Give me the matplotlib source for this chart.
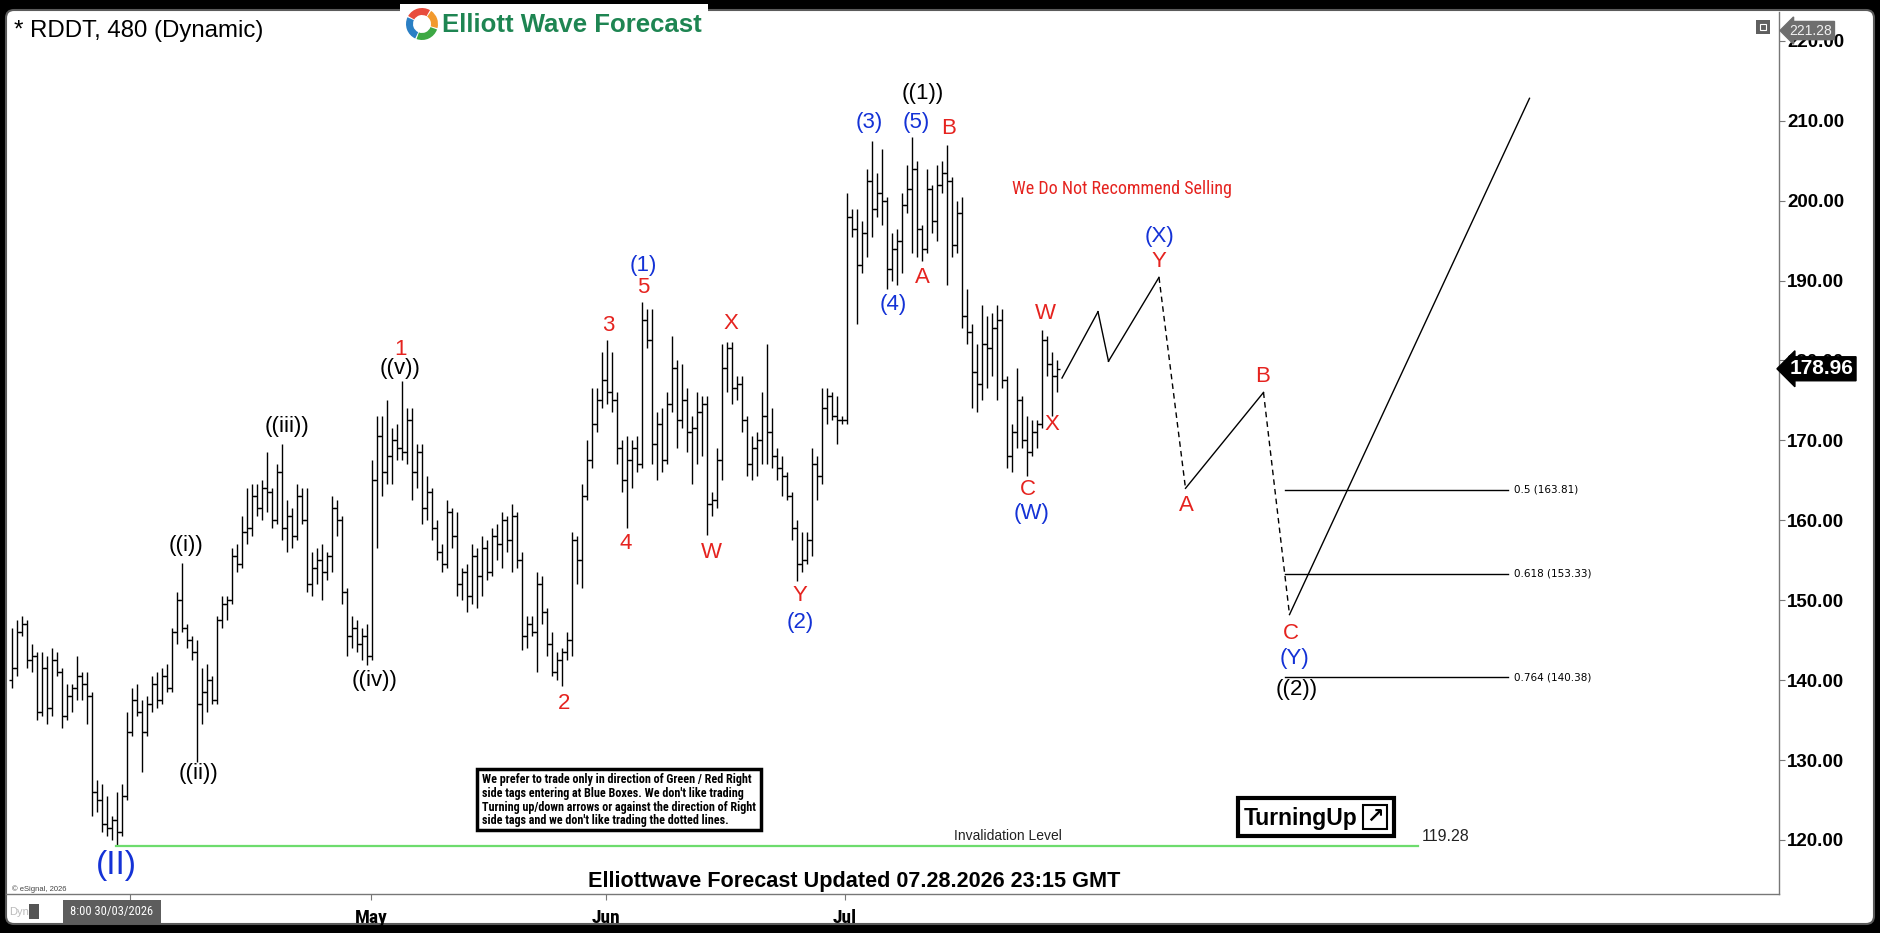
import matplotlib
matplotlib.use("Agg")
import matplotlib.pyplot as plt
import matplotlib.patches as patches
import matplotlib.transforms as mtransforms
from matplotlib.collections import LineCollection
from matplotlib import font_manager as fm
import numpy as np

# ---- RDDT 480 min bars ----
opens = [140.0, 141.5, 146.0, 147.0, 142.5, 143.0, 136.0, 141.5, 136.5, 142.5,
         141.0, 135.5, 138.0, 139.0, 140.5, 139.5, 138.0, 126.0, 125.0, 122.0,
         121.5, 122.5, 121.0, 125.5, 133.5, 137.5, 136.0, 133.5, 137.0, 139.5,
         137.5, 140.5, 139.0, 146.0, 150.0, 146.5, 145.0, 143.5, 137.0, 138.5,
         140.0, 137.5, 147.5, 149.5, 150.0, 155.5, 154.5, 158.5, 159.0, 163.0,
         161.5, 164.0, 163.5, 160.0, 166.0, 159.0, 160.5, 158.0, 163.0, 160.0,
         152.0, 154.0, 155.0, 153.5, 155.5, 161.5, 160.0, 151.0, 145.5, 146.5,
         144.5, 145.5, 143.0, 165.0, 170.5, 166.0, 168.0, 170.0, 169.0, 168.5,
         172.5, 166.0, 168.5, 161.5, 163.5, 159.0, 156.0, 154.5, 161.0, 158.0,
         152.0, 153.5, 150.5, 155.5, 153.0, 156.5, 153.5, 158.0, 157.0, 160.0,
         157.5, 160.5, 155.0, 145.5, 147.0, 146.0, 152.0, 148.5, 144.5, 141.0,
         142.5, 143.5, 145.0, 157.5, 155.0, 163.0, 167.5, 172.0, 175.0, 177.5,
         176.0, 175.0, 169.0, 165.0, 167.5, 169.0, 167.0, 185.0, 182.5, 169.5,
         172.0, 167.5, 174.5, 179.0, 172.5, 175.0, 171.0, 171.5, 173.5, 174.5,
         162.0, 162.5, 167.5, 179.0, 181.5, 176.5, 177.0, 172.5, 167.0, 169.0,
         170.0, 173.0, 171.0, 168.0, 166.5, 165.5, 163.0, 159.0, 154.5, 155.0,
         157.5, 167.0, 165.5, 174.0, 175.5, 173.0, 172.5, 172.5, 198.0, 196.5,
         192.0, 196.0, 202.5, 199.0, 201.0, 200.0, 191.5, 194.0, 195.0, 199.5,
         201.5, 204.0, 196.5, 194.0, 201.5, 197.5, 202.0, 203.5, 202.5, 194.5,
         198.5, 185.5, 183.5, 178.5, 177.0, 182.0, 181.5, 184.0, 185.0, 177.5,
         168.0, 171.0, 175.0, 170.0, 168.5, 171.0, 172.0, 182.5, 179.5, 178.0]
highs = [146.5, 147.5, 148.0, 147.5, 144.5, 143.5, 143.5, 143.0, 144.0, 143.5,
         141.5, 139.5, 139.5, 143.0, 141.0, 141.0, 138.5, 127.5, 127.0, 125.5,
         123.0, 126.0, 127.0, 136.0, 139.0, 139.5, 137.5, 138.0, 140.5, 141.0,
         141.5, 142.0, 146.5, 151.0, 154.7, 147.0, 145.5, 145.0, 141.5, 142.0,
         140.5, 148.0, 150.5, 150.5, 156.5, 157.0, 160.5, 164.0, 164.5, 164.5,
         165.0, 168.5, 164.0, 167.0, 169.6, 162.5, 161.5, 164.5, 164.0, 164.0,
         156.0, 156.5, 157.0, 156.0, 163.0, 162.5, 160.5, 151.5, 148.0, 147.5,
         146.5, 147.0, 167.5, 173.0, 173.0, 175.0, 171.5, 172.0, 177.4, 174.0,
         174.0, 169.5, 169.5, 165.5, 164.0, 160.0, 157.0, 162.5, 161.5, 161.0,
         154.0, 154.5, 157.0, 156.5, 158.0, 157.5, 159.0, 159.5, 161.0, 160.5,
         162.0, 161.0, 156.0, 148.0, 148.0, 153.5, 153.0, 149.0, 146.0, 143.5,
         144.0, 146.0, 158.5, 158.0, 164.5, 170.0, 176.5, 176.5, 181.0, 182.5,
         181.0, 176.0, 170.0, 170.5, 170.0, 170.5, 187.3, 186.5, 186.5, 173.5,
         174.0, 176.0, 183.0, 180.0, 179.5, 176.5, 173.0, 176.0, 175.5, 175.5,
         163.5, 169.0, 182.0, 182.3, 182.3, 178.0, 178.0, 173.0, 170.5, 171.0,
         176.0, 182.0, 174.0, 169.0, 168.0, 166.0, 163.5, 160.0, 158.5, 158.5,
         169.0, 168.0, 176.5, 176.5, 176.0, 175.5, 173.0, 201.0, 199.0, 199.0,
         197.5, 204.0, 207.5, 203.5, 206.5, 200.5, 196.0, 196.5, 201.0, 204.5,
         208.0, 205.0, 197.0, 204.0, 202.0, 204.5, 205.0, 207.0, 203.0, 200.0,
         200.5, 189.0, 184.5, 182.0, 187.0, 185.5, 186.0, 187.0, 186.5, 178.0,
         172.0, 179.0, 175.5, 173.0, 172.5, 172.5, 183.8, 183.0, 181.0, 180.0]
lows = [139.0, 140.5, 145.5, 141.5, 141.0, 135.0, 135.5, 134.5, 135.5, 140.5,
        134.0, 135.0, 136.0, 137.5, 137.5, 134.5, 123.0, 123.5, 121.0, 120.5,
        120.0, 119.3, 120.5, 125.0, 133.0, 135.5, 128.5, 133.0, 136.0, 136.5,
        137.0, 138.5, 138.5, 144.5, 146.0, 144.0, 142.5, 129.8, 134.5, 136.0,
        137.0, 137.0, 146.5, 147.5, 149.5, 153.5, 154.0, 157.0, 158.0, 160.5,
        160.0, 161.0, 159.0, 159.5, 157.5, 156.0, 156.5, 157.5, 159.5, 151.0,
        150.5, 152.0, 150.0, 152.5, 153.5, 158.0, 149.5, 143.0, 144.0, 143.5,
        142.5, 141.9, 142.5, 156.5, 163.0, 164.5, 164.5, 167.5, 167.5, 167.0,
        162.5, 164.0, 159.5, 160.0, 157.5, 155.0, 153.5, 154.0, 156.5, 150.5,
        150.0, 148.5, 149.5, 149.0, 150.5, 152.5, 153.0, 155.0, 154.0, 156.0,
        153.5, 154.0, 143.8, 144.0, 145.5, 141.0, 147.0, 143.0, 140.5, 140.0,
        139.3, 142.5, 143.0, 152.0, 151.5, 162.5, 166.5, 171.0, 174.0, 174.5,
        173.5, 167.0, 163.5, 159.0, 164.0, 166.0, 166.5, 181.5, 167.0, 165.0,
        166.0, 167.0, 173.5, 169.0, 171.5, 168.5, 164.5, 167.0, 168.0, 158.1,
        160.5, 161.5, 165.0, 176.0, 174.5, 175.0, 171.0, 165.5, 165.0, 165.5,
        167.0, 167.0, 166.5, 165.0, 163.0, 162.5, 157.5, 152.4, 153.5, 154.5,
        155.5, 162.5, 164.5, 172.0, 172.5, 169.5, 172.0, 172.0, 195.5, 184.5,
        191.0, 193.0, 195.5, 198.0, 197.0, 189.0, 190.0, 189.5, 191.0, 198.5,
        193.5, 193.0, 192.4, 193.5, 196.0, 195.0, 201.0, 189.5, 193.0, 193.5,
        184.0, 182.0, 174.0, 173.5, 175.0, 176.5, 178.0, 175.0, 176.5, 166.5,
        166.0, 169.0, 169.0, 165.5, 168.0, 169.0, 171.5, 178.0, 173.0, 176.0]
closes = [141.5, 146.0, 147.0, 142.5, 143.0, 136.0, 141.5, 136.5, 142.5, 141.0,
          135.5, 138.0, 139.0, 140.5, 139.5, 138.0, 126.0, 125.0, 122.0, 121.5,
          122.5, 121.0, 125.5, 133.5, 137.5, 136.0, 133.5, 137.0, 139.5, 137.5,
          140.5, 139.0, 146.0, 150.0, 146.5, 145.0, 143.5, 137.0, 138.5, 140.0,
          137.5, 147.5, 149.5, 150.0, 155.5, 154.5, 158.5, 159.0, 163.0, 161.5,
          164.0, 163.5, 160.0, 166.0, 159.0, 160.5, 158.0, 163.0, 160.0, 152.0,
          154.0, 155.0, 153.5, 155.5, 161.5, 160.0, 151.0, 145.5, 146.5, 144.5,
          145.5, 143.0, 165.0, 170.5, 166.0, 168.0, 170.0, 169.0, 168.5, 172.5,
          166.0, 168.5, 161.5, 163.5, 159.0, 156.0, 154.5, 161.0, 158.0, 152.0,
          153.5, 150.5, 155.5, 153.0, 156.5, 153.5, 158.0, 157.0, 160.0, 157.5,
          160.5, 155.0, 145.5, 147.0, 146.0, 152.0, 148.5, 144.5, 141.0, 142.5,
          143.5, 145.0, 157.5, 155.0, 163.0, 167.5, 172.0, 175.0, 177.5, 176.0,
          175.0, 169.0, 165.0, 167.5, 169.0, 167.0, 185.0, 182.5, 169.5, 172.0,
          167.5, 174.5, 179.0, 172.5, 175.0, 171.0, 171.5, 173.5, 174.5, 162.0,
          162.5, 167.5, 179.0, 181.5, 176.5, 177.0, 172.5, 167.0, 169.0, 170.0,
          173.0, 171.0, 168.0, 166.5, 165.5, 163.0, 159.0, 154.5, 155.0, 157.5,
          167.0, 165.5, 174.0, 175.5, 173.0, 172.5, 172.5, 198.0, 196.5, 192.0,
          196.0, 202.5, 199.0, 201.0, 200.0, 191.5, 194.0, 195.0, 199.5, 201.5,
          204.0, 196.5, 194.0, 201.5, 197.5, 202.0, 203.5, 202.5, 194.5, 198.5,
          185.5, 183.5, 178.5, 177.0, 182.0, 181.5, 184.0, 185.0, 177.5, 168.0,
          171.0, 175.0, 170.0, 168.5, 171.0, 172.0, 182.5, 179.5, 178.0, 178.96]

last_price = 178.96
top_tag = 221.28

price_ticks = [120, 130, 140, 150, 160, 170, 180, 190, 200, 210, 220]
month_ticks = [23.6, 71.8, 118.8, 166.6]      # bar index of month starts
month_names = ["", "May", "Jun", "Jul"]

# wave labels: (text, bar index, price)
black_labels = [("((1))", 182.1, 213.4), ("((v))", 77.7, 179.0), ("((iii))", 54.9, 171.7),
                ("((i))", 34.8, 156.9), ("((ii))", 37.4, 128.3), ("((iv))", 72.5, 140.0),
                ("((2))", 257.0, 138.8)]
blue_labels = [("(3)", 171.5, 209.8), ("(5)", 180.9, 209.8), ("(1)", 126.2, 191.9),
               ("(2)", 157.6, 147.2), ("(4)", 176.3, 187.0), ("(W)", 203.9, 160.8),
               ("(X)", 229.4, 195.5), ("(Y)", 256.5, 142.7)]
red_labels = [("B", 187.4, 209.0), ("5", 126.2, 189.1), ("3", 119.2, 184.4), ("X", 143.7, 184.6),
              ("1", 77.7, 181.4), ("4", 122.8, 157.1), ("W", 139.9, 156.0), ("2", 110.4, 137.1),
              ("Y", 157.6, 150.6), ("A", 182.1, 190.4), ("W", 206.6, 185.9), ("X", 208.0, 172.0),
              ("C", 203.2, 163.8), ("Y", 229.4, 192.4), ("B", 250.2, 178.0), ("A", 234.9, 161.9),
              ("C", 255.8, 145.8)]
big_label = ("(II)", 20.9, 116.8)

# projected path (bar index, price) and whether each leg is dashed
projection = [(210.0, 177.8), (217.2, 186.1), (219.3, 179.9), (229.4, 190.4),
              (234.7, 164.0), (250.3, 176.0), (255.5, 148.2), (303.5, 212.8)]
projection_dashed = [False, False, False, True, False, True, False]

fib_ratios = [0.5, 0.618, 0.764]
fib_prices = [163.81, 153.33, 140.38]
fib_span = (254.6, 299.2)

invalidation = 119.28
invalidation_span = (20.8, 281.2)

# ---- fonts ----
avail = {f.name for f in fm.fontManager.ttflist}
SANS = "Liberation Sans" if "Liberation Sans" in avail else "DejaVu Sans"


def find_narrow():
    for name in ["Liberation Sans Narrow", "Arial Narrow", "Roboto Condensed",
                 "Open Sans Condensed", "DejaVu Sans Condensed", "Noto Sans Condensed"]:
        if name in avail:
            return {"family": name}
    for f in fm.fontManager.ttflist:
        if str(f.stretch) in ("condensed", "semi-condensed", "extra-condensed") and \
                f.name in ("DejaVu Sans", "Noto Sans", "Open Sans", "Roboto"):
            return {"family": f.name, "fontstretch": "condensed"}
    return None


NARROW = find_narrow()
narrow_kw = NARROW if NARROW else {"family": SANS}

RED = "#e5231f"
BLUE = "#1432d6"
W, H = 1881, 933

fig = plt.figure(figsize=(W / 100, H / 100), dpi=100)
fig.patch.set_facecolor("black")

# background frame (pixel coords)
bg = fig.add_axes([0, 0, 1, 1], zorder=0)
bg.set_xlim(0, W)
bg.set_ylim(H, 0)
bg.axis("off")
bg.add_patch(patches.FancyBboxPatch((6, 10), 1868, 914, boxstyle="round,pad=0,rounding_size=8",
                                    fc="white", ec="#5a5a5a", lw=1.5))

# main price axes
ax = fig.add_axes([6 / W, 1 - 894 / H, (1779 - 6) / W, (894 - 12) / H], zorder=1)
ax.set_facecolor("none")
ax.set_xlim(-1.2, 353.4)
ax.set_ylim(113.24, 223.6)

x = np.arange(len(closes))
segs = []
for i in x:
    segs.append([(i, lows[i]), (i, highs[i])])
    segs.append([(i - 0.55, opens[i]), (i, opens[i])])
    segs.append([(i, closes[i]), (i + 0.55, closes[i])])
ax.add_collection(LineCollection(segs, colors="black", linewidths=1.0))

for s in ["top", "left"]:
    ax.spines[s].set_visible(False)
for s in ["right", "bottom"]:
    ax.spines[s].set_color("#777777")
    ax.spines[s].set_linewidth(1.0)

ax.yaxis.tick_right()
ax.set_yticks(price_ticks)
ax.set_yticklabels([f"{p:.2f}" for p in price_ticks], fontsize=13.5, fontweight="bold", family=SANS)
ax.tick_params(axis="y", direction="out", length=4, pad=2, color="#777777")
ax.set_xticks(month_ticks)
ax.set_xticklabels(month_names, fontsize=14 if NARROW else 13, fontweight="bold", **narrow_kw)
ax.tick_params(axis="x", direction="out", length=4, pad=7, color="#777777")

# wave labels
for t, bx, py in black_labels:
    ax.text(bx, py, t, ha="center", va="center", fontsize=16, color="black", family=SANS)
for t, bx, py in blue_labels:
    ax.text(bx, py, t, ha="center", va="center", fontsize=16, color=BLUE, family=SANS)
for t, bx, py in red_labels:
    ax.text(bx, py, t, ha="center", va="center", fontsize=16, color=RED, family=SANS)
ax.text(big_label[1], big_label[2], big_label[0], ha="center", va="center", fontsize=24,
        color=BLUE, family=SANS, clip_on=False)

# projection path
for k in range(len(projection) - 1):
    (x0, y0), (x1, y1) = projection[k], projection[k + 1]
    ax.plot([x0, x1], [y0, y1], color="black", lw=1.0,
            ls=(0, (4, 3)) if projection_dashed[k] else "-")

# fibonacci levels
for r, p in zip(fib_ratios, fib_prices):
    ax.plot(fib_span, [p, p], color="black", lw=1.0)
    ax.text(fib_span[1] + 1.2, p, f"{r} ({p:.2f})", ha="left", va="center", fontsize=7.5,
            family="DejaVu Sans", color="black")

# invalidation level
ax.plot(invalidation_span, [invalidation, invalidation], color="#6ddc6d", lw=1.6)
ax.text(199.1, invalidation + 1.2, "Invalidation Level", ha="center", va="center",
        fontsize=10, family=SANS, color="#222222")
ax.text(invalidation_span[1] + 0.8, invalidation + 1.2, f"{invalidation:.2f}", ha="left",
        va="center", fontsize=11.5, family=SANS, color="#222222")

ax.text(221.9, 201.4, "We Do Not Recommend Selling", ha="center", va="center",
        fontsize=13 if NARROW else 11, color=RED, **narrow_kw)

# price tags on the right scale
blend = mtransforms.blended_transform_factory(ax.transAxes, ax.transData)
ax.text(1.006, last_price, f"{last_price:.2f}", transform=blend, ha="left", va="center",
        fontsize=15, fontweight="bold", color="white", family=SANS, clip_on=False,
        bbox=dict(boxstyle="larrow,pad=0.12", fc="black", ec="black"), zorder=5)
ax.text(1.006, top_tag, f"{top_tag:.2f}", transform=blend, ha="left", va="center",
        fontsize=10, color="#f0f0f0", family=SANS, clip_on=False,
        bbox=dict(boxstyle="larrow,pad=0.15", fc="#6e6e6e", ec="#6e6e6e"), zorder=5)

# overlay (pixel coords) for chart furniture
ov = fig.add_axes([0, 0, 1, 1], zorder=3)
ov.set_facecolor("none")
ov.set_xlim(0, W)
ov.set_ylim(H, 0)
ov.axis("off")

ov.text(14, 31, "* RDDT, 480 (Dynamic)", ha="left", va="center", fontsize=17.3, family=SANS)

# logo
ov.add_patch(patches.Rectangle((400, 4), 308, 40, fc="white", ec="none"))
cx, cy = 422, 24
for t1, t2, col in [(20, 110, "#3da844"), (115, 205, "#2a7fc4"), (210, 300, "#e84c3d"), (305, 15, "#f29a2e")]:
    ov.add_patch(patches.Wedge((cx, cy), 16, t1, t2, width=7, fc=col, ec="none"))
ov.text(442, 25, "Elliott Wave Forecast", ha="left", va="center", fontsize=18.5,
        fontweight="bold", color="#1e8552", family=SANS)

# small window icon top right
ov.add_patch(patches.Rectangle((1756, 20), 14, 14, fc="#5f5f5f", ec="none"))
ov.add_patch(patches.Rectangle((1760, 24), 6, 6, fc="none", ec="white", lw=0.8))

# disclaimer box
ov.add_patch(patches.Rectangle((477, 769), 284, 61, fc="white", ec="black", lw=2.5))
disc = ("We prefer to trade only in direction of Green / Red Right\n"
        "side tags entering at Blue Boxes. We don't like trading\n"
        "Turning up/down arrows or against the direction of Right\n"
        "side tags and we don't like trading the dotted lines.")
ov.text(482, 773, disc, ha="left", va="top", fontsize=8.7 if NARROW else 6.4,
        fontweight="bold", linespacing=1.08 if NARROW else 1.45, **narrow_kw)

# turning up box
ov.add_patch(patches.Rectangle((1238, 798), 156, 38, fc="white", ec="black", lw=3))
ov.text(1244, 818, "TurningUp", ha="left", va="center", fontsize=16.5, fontweight="bold", family=SANS)
ov.add_patch(patches.Rectangle((1363, 805), 24, 24, fc="white", ec="black", lw=1.5))
ov.text(1375, 817, "\u2197", ha="center", va="center", fontsize=15, fontweight="bold",
        family="DejaVu Sans")

# footer
ov.text(854, 881, "Elliottwave Forecast Updated 07.28.2026 23:15 GMT", ha="center", va="center",
        fontsize=15.6, fontweight="bold", family=SANS)
ov.text(12, 889, "\u00a9 eSignal, 2026", ha="left", va="center", fontsize=5.5,
        color="#444444", family=SANS)

# bottom-left time box
ov.text(9, 912, "Dyn", ha="left", va="center", fontsize=8, color="#bbbbbb", family=SANS)
ov.add_patch(patches.Rectangle((29, 904), 10, 15, fc="#555555", ec="none"))
ov.add_patch(patches.Rectangle((63, 900), 98, 24, fc="#5d5d5d", ec="none"))
ov.text(112, 912, "8:00 30/03/2026", ha="center", va="center", fontsize=9, color="white",
        **narrow_kw)

fig.savefig("out.png", dpi=100, facecolor=fig.get_facecolor())
